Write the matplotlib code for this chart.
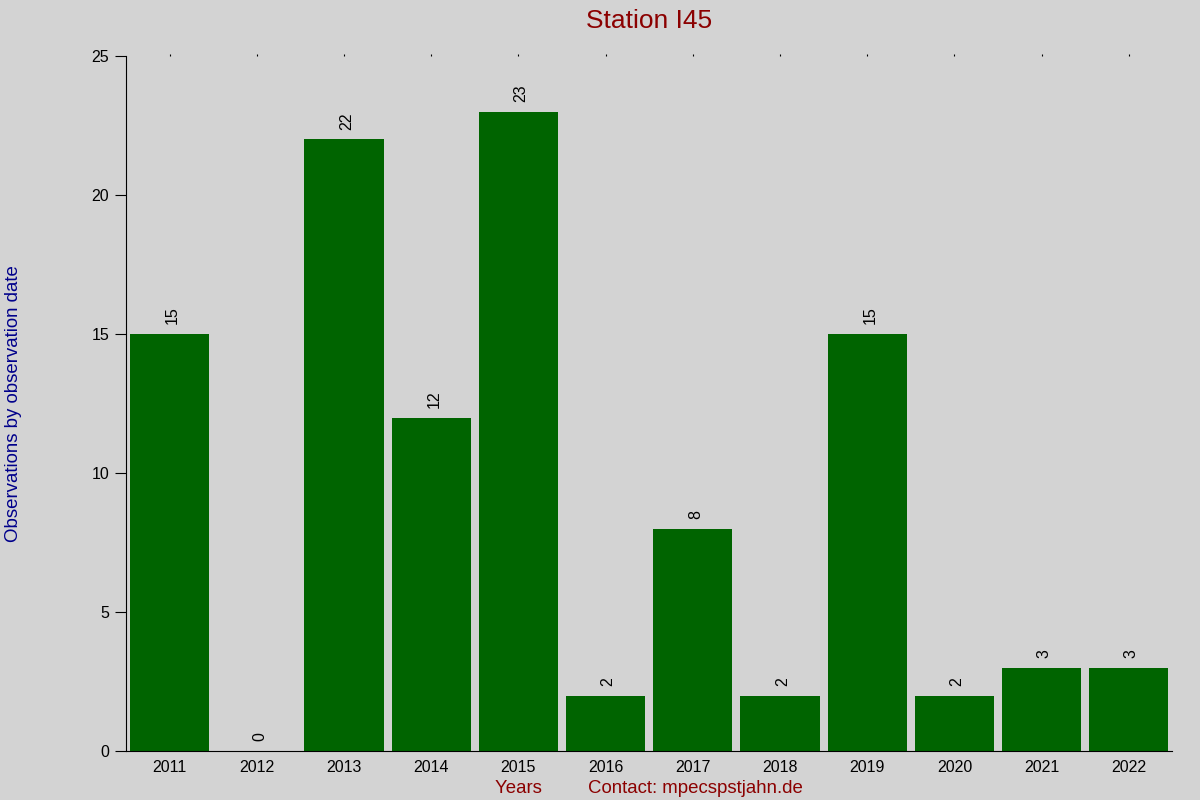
import matplotlib
matplotlib.use('Agg')
import matplotlib.pyplot as plt

plt.rcParams['font.family'] = ['Liberation Sans', 'DejaVu Sans']

years = [2011, 2012, 2013, 2014, 2015, 2016, 2017, 2018, 2019, 2020, 2021, 2022]
counts = [15, 0, 22, 12, 23, 2, 8, 2, 15, 2, 3, 3]

bg = '#d3d3d3'
fig = plt.figure(figsize=(12, 8), dpi=100, facecolor=bg)
ax = fig.add_axes([0.105, 0.061, 0.872, 0.869], facecolor=bg)

ax.bar(years, counts, width=0.91, color='#006400')
for x, v in zip(years, counts):
    ax.text(x + 0.03, v + 0.35, str(v), rotation=90, ha='center', va='bottom', fontsize=11.5)

ax.set_xlim(2010.5, 2022.5)
ax.set_ylim(0, 25)
ax.set_yticks([0, 5, 10, 15, 20, 25])
ax.set_xticks(years)
ax.set_xticklabels([str(y) for y in years])

for s in ['top', 'right']:
    ax.spines[s].set_visible(False)
ax.tick_params(axis='y', direction='out', length=8, labelsize=11.5, pad=4)
ax.tick_params(axis='x', length=0, labelsize=11.5, pad=6, top=True, labeltop=False)
# tiny tick dots along the top edge
for t in ax.xaxis.get_major_ticks():
    t.tick2line.set_markersize(1.5)
    t.tick2line.set_visible(True)

ax.set_title('Station I45', color='#8b0000', fontsize=19, pad=20)
ax.set_ylabel('Observations by observation date', color='#00008b', fontsize=13.4, labelpad=50)
ax.set_xlabel('Years         Contact: mpecspstjahn.de', color='#8b0000', fontsize=13.4, labelpad=4)

fig.savefig('out.png', dpi=100, facecolor=bg)
